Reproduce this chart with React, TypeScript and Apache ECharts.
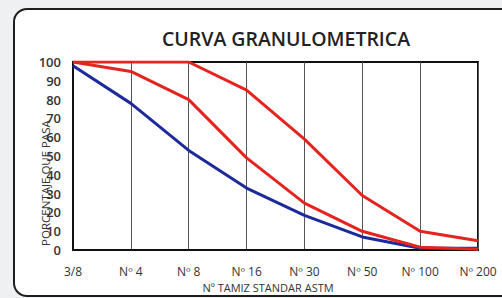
import React, { useEffect, useRef } from "react";
import * as echarts from "echarts";

const categories = ["3/8", "Nº 4", "Nº 8", "Nº 16", "Nº 30", "Nº 50", "Nº 100", "Nº 200"];
const curvaMuestra = [98, 78, 53, 33, 18.5, 7, 1, 1];
const limiteInferior = [100, 95, 80, 49, 25, 10, 1.5, 0.5];
const limiteSuperior = [100, 100, 100, 85, 59, 29, 10, 5];
const yAxisName = "PORCENTAJE QUE PASA";

export default function App() {
  const ref = useRef<HTMLDivElement>(null);
  useEffect(() => {
    const chart = echarts.init(ref.current!, null, { renderer: "svg" });
    const font = "'Open Sans', 'Noto Sans', sans-serif";
    chart.setOption({
      animation: false,
      backgroundColor: "#eef0f1",
      title: {
        text: "CURVA GRANULOMETRICA",
        left: 281,
        top: 23,
        textAlign: "center",
        textStyle: { fontFamily: font, fontSize: 19.5, fontWeight: 600, color: "#222" },
      },
      graphic: [
        {
          type: "rect",
          z: -10,
          silent: true,
          shape: { x: 14, y: 9, width: 500, height: 287, r: 13 },
          style: { fill: "#ffffff", stroke: "#1e1e1e", lineWidth: 2 },
        },
        {
          type: "text",
          x: 45,
          y: 183,
          rotation: Math.PI / 2,
          z: 10,
          style: {
            text: yAxisName,
            fontFamily: font,
            fontSize: 11.5,
            fill: "#333",
            align: "center",
            verticalAlign: "middle",
          },
        },
      ],
      grid: { left: 73, right: 24, top: 62, bottom: 34, show: true, borderColor: "#111", borderWidth: 2, backgroundColor: "transparent" },
      xAxis: {
        type: "category",
        data: categories,
        boundaryGap: false,
        name: "Nº TAMIZ STANDAR ASTM",
        nameLocation: "middle",
        nameGap: 26,
        nameTextStyle: { fontFamily: font, fontSize: 11, color: "#333", padding: [0, 15, 0, 0] },
        axisLine: { show: true, lineStyle: { color: "#111", width: 2 } },
        axisTick: { show: false },
        axisLabel: { margin: 15, fontFamily: font, fontSize: 12, color: "#333", fontWeight: 500 },
        splitLine: { show: true, lineStyle: { color: "#555", width: 1 } },
      },
      yAxis: {
        type: "value",
        min: 0,
        max: 100,
        interval: 10,
        axisLine: { show: true, lineStyle: { color: "#111", width: 2 } },
        axisTick: { show: false },
        axisLabel: { margin: 12, fontFamily: font, fontSize: 13, fontWeight: 600, color: "#333" },
        splitLine: { show: false },
      },
      series: [
        {
          type: "line",
          data: curvaMuestra,
          symbol: "none",
          lineStyle: { color: "#1c2a9c", width: 3 },
          z: 3,
        },
        {
          type: "line",
          data: limiteInferior,
          symbol: "none",
          lineStyle: { color: "#e5231f", width: 3 },
          z: 4,
        },
        {
          type: "line",
          data: limiteSuperior,
          symbol: "none",
          lineStyle: { color: "#e5231f", width: 3 },
          z: 4,
        },
      ],
    });
    return () => chart.dispose();
  }, []);
  return <div ref={ref} style={{ width: 502, height: 298, position: "absolute", left: 0, top: 0 }} />;
}
